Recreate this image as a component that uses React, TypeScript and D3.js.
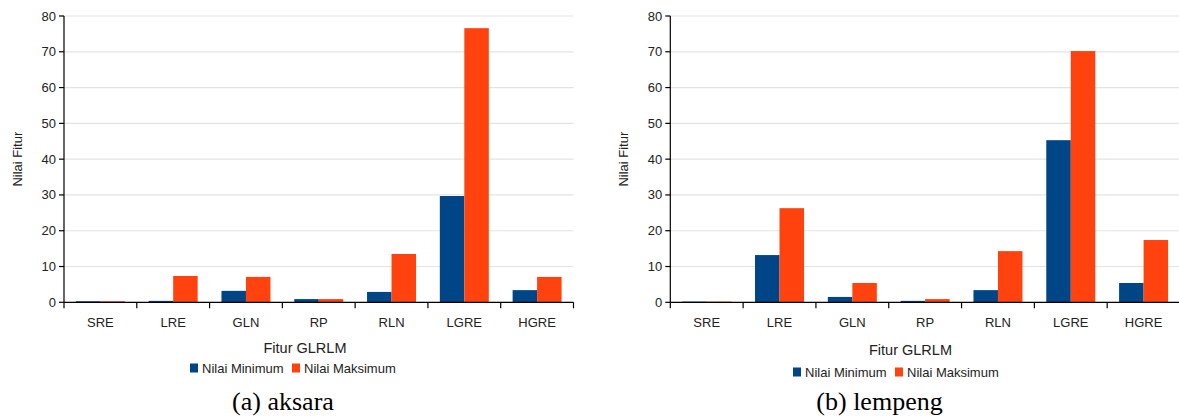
import React from "react";
import * as d3 from "d3";

const categories = ["SRE", "LRE", "GLN", "RP", "RLN", "LGRE", "HGRE"];
const seriesNames = ["Nilai Minimum", "Nilai Maksimum"];
const aksaraMin = [0.3, 0.4, 3.2, 0.9, 2.9, 29.7, 3.4];
const aksaraMax = [0.3, 7.35, 7.1, 0.9, 13.5, 76.6, 7.1];
const lempengMin = [0.2, 13.2, 1.5, 0.4, 3.4, 45.3, 5.4];
const lempengMax = [0.2, 26.3, 5.4, 0.9, 14.3, 70.2, 17.4];
const yTicks = [0, 10, 20, 30, 40, 50, 60, 70, 80];
const colors = ["#004586", "#ff420e"];

const sans = "'Liberation Sans', Arial, sans-serif";
const serif = "'Liberation Serif', 'Times New Roman', serif";

type PanelProps = {
  x0: number;
  x1: number;
  minVals: number[];
  maxVals: number[];
  yLabelX: number;
  titleX: number;
  titleY: number;
  legendX: number;
  legendY: number;
  caption: string;
  captionX: number;
};

function Panel(p: PanelProps) {
  const top = 16;
  const bottom = 302.3;
  const y = d3.scaleLinear().domain([0, 80]).range([bottom, top]);
  const x = d3.scaleBand<string>().domain(categories).range([p.x0, p.x1]).paddingInner(0).paddingOuter(0);
  const inner = d3.scaleBand<string>().domain(["0", "1"]).range([0, x.bandwidth()]).paddingOuter(0.486).paddingInner(0);
  const series = [p.minVals, p.maxVals];
  const boundaries = categories.map((c) => x(c) as number).concat([p.x1]);
  return (
    <g>
      {yTicks.map((t) => (
        <line key={"g" + t} x1={p.x0} x2={p.x1} y1={y(t)} y2={y(t)} stroke="#e3e3e3" strokeWidth={1.2} />
      ))}
      {series.map((vals, si) =>
        categories.map((c, i) => (
          <rect
            key={si + c}
            x={(x(c) as number) + (inner(String(si)) as number)}
            y={y(vals[i])}
            width={inner.bandwidth()}
            height={bottom - y(vals[i])}
            fill={colors[si]}
          />
        ))
      )}
      <line x1={p.x0} x2={p.x0} y1={top} y2={bottom} stroke="#000" strokeWidth={1.2} />
      <line x1={p.x0} x2={p.x1} y1={bottom} y2={bottom} stroke="#000" strokeWidth={1.2} />
      {yTicks.map((t) => (
        <g key={"t" + t}>
          <line x1={p.x0 - 5} x2={p.x0} y1={y(t)} y2={y(t)} stroke="#000" strokeWidth={1.2} />
          <text x={p.x0 - 8} y={y(t)} dy="0.35em" textAnchor="end" fontFamily={sans} fontSize={13} fill="#222">
            {t}
          </text>
        </g>
      ))}
      {boundaries.map((bx, i) => (
        <line key={"b" + i} x1={bx} x2={bx} y1={bottom} y2={bottom + 6} stroke="#000" strokeWidth={1.2} />
      ))}
      {categories.map((c) => (
        <text key={"c" + c} x={(x(c) as number) + x.bandwidth() / 2} y={327} textAnchor="middle" fontFamily={sans} fontSize={13} fill="#222">
          {c}
        </text>
      ))}
      <text
        transform={`translate(${p.yLabelX},${(top + bottom) / 2}) rotate(-90)`}
        textAnchor="middle"
        dy="0.35em"
        fontFamily={sans}
        fontSize={13}
        fill="#222"
      >
        Nilai Fitur
      </text>
      <text x={p.titleX} y={p.titleY} textAnchor="middle" fontFamily={sans} fontSize={14.5} fill="#222">
        Fitur GLRLM
      </text>
      <g transform={`translate(${p.legendX},${p.legendY})`}>
        <rect x={0} y={-4.5} width={8} height={9} fill={colors[0]} />
        <text x={12} y={0} dy="0.35em" fontFamily={sans} fontSize={13} fill="#222">
          {seriesNames[0]}
        </text>
        <rect x={102} y={-4.5} width={8} height={9} fill={colors[1]} />
        <text x={114} y={0} dy="0.35em" fontFamily={sans} fontSize={13} fill="#222">
          {seriesNames[1]}
        </text>
      </g>
      <text x={p.captionX} y={410} textAnchor="middle" fontFamily={serif} fontSize={26} fill="#000">
        {p.caption}
      </text>
    </g>
  );
}

export default function App() {
  return (
    <svg width={1179} height={417} style={{ position: "absolute", left: 0, top: 0, background: "#fff" }}>
      <rect width={1179} height={417} fill="#fff" />
      <Panel
        x0={64}
        x1={573.5}
        minVals={aksaraMin}
        maxVals={aksaraMax}
        yLabelX={17}
        titleX={305}
        titleY={353}
        legendX={190}
        legendY={368}
        caption="(a) aksara"
        captionX={283}
      />
      <Panel
        x0={670.3}
        x1={1180}
        minVals={lempengMin}
        maxVals={lempengMax}
        yLabelX={623}
        titleX={910.5}
        titleY={355}
        legendX={793}
        legendY={372}
        caption="(b) lempeng"
        captionX={879.5}
      />
    </svg>
  );
}
